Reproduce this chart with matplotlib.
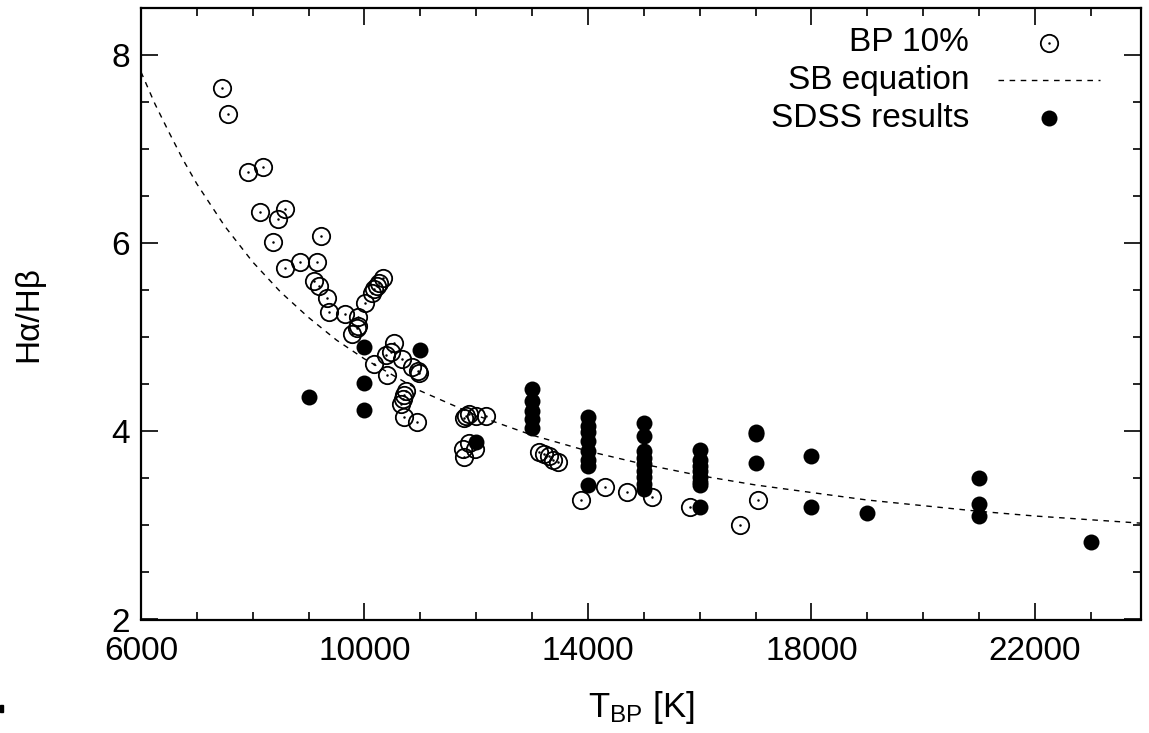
import matplotlib
matplotlib.use("Agg")
import matplotlib.pyplot as plt
from matplotlib.lines import Line2D
from matplotlib.patches import Rectangle

plt.rcParams["font.family"] = ["Liberation Sans", "DejaVu Sans"]
plt.rcParams["mathtext.fontset"] = "custom"
plt.rcParams["mathtext.rm"] = "Liberation Sans"
plt.rcParams["mathtext.it"] = "Liberation Sans"

# BP 10% (open circles)
bp_t = [7443, 7558, 7909, 8190, 8131, 8446, 8578, 8356, 9223, 8584,
        8847, 9151, 9090, 9180, 9330, 9372, 9653, 9885, 9891, 9860,
        9778, 10016, 10129, 10177, 10218, 10267, 10326, 10523, 10387, 10476,
        10177, 10673, 10852, 10952, 10983, 10397, 10745, 10714, 10684, 10655,
        10702, 10942, 11819, 11878, 11789, 11998, 12177, 11758, 11878, 11986,
        11789, 13132, 13221, 13310, 13370, 13460, 13870, 14300, 14700, 15150,
        15820, 16730, 17040]
bp_r = [7.65, 7.37, 6.76, 6.81, 6.33, 6.26, 6.36, 6.01, 6.08, 5.74,
        5.80, 5.80, 5.60, 5.55, 5.42, 5.27, 5.25, 5.22, 5.12, 5.10,
        5.04, 5.36, 5.47, 5.51, 5.55, 5.58, 5.63, 4.94, 4.81, 4.84,
        4.72, 4.77, 4.68, 4.64, 4.62, 4.60, 4.43, 4.39, 4.34, 4.29,
        4.15, 4.10, 4.16, 4.18, 4.14, 4.16, 4.16, 3.81, 3.88, 3.81,
        3.73, 3.78, 3.755, 3.74, 3.70, 3.67, 3.27, 3.41, 3.35, 3.30,
        3.20, 3.00, 3.27]

# SDSS results (filled circles)
sdss_t = [9000, 10000, 10000, 10000, 11000, 12000,
          13000, 13000, 13000, 13000, 13000,
          14000, 14000, 14000, 14000, 14000, 14000, 14000, 14000,
          15000, 15000, 15000, 15000, 15000, 15000, 15000, 15000, 15000,
          16000, 16000, 16000, 16000, 16000, 16000, 16000, 16000,
          17000, 17000, 17000, 18000, 18000, 19000,
          21000, 21000, 21000, 23000]
sdss_r = [4.36, 4.90, 4.51, 4.23, 4.86, 3.89,
          4.45, 4.32, 4.22, 4.13, 4.04,
          4.15, 4.06, 3.99, 3.90, 3.79, 3.70, 3.63, 3.43,
          4.09, 3.95, 3.79, 3.72, 3.65, 3.58, 3.51, 3.44, 3.39,
          3.80, 3.70, 3.63, 3.58, 3.52, 3.46, 3.43, 3.20,
          3.99, 3.97, 3.66, 3.74, 3.20, 3.13,
          3.50, 3.23, 3.10, 2.82]

# SB equation curve
sb_t = [6000, 6250, 6500, 6750, 7000, 7500, 8000, 8500, 9000, 9500,
        10000, 11000, 12000, 13000, 14000, 15000, 16000, 17000, 18000,
        19000, 20000, 21000, 22000, 23000, 24000]
sb_r = [7.82, 7.48, 7.18, 6.89, 6.63, 6.18, 5.80, 5.48, 5.21, 4.97,
        4.77, 4.43, 4.17, 3.96, 3.79, 3.65, 3.53, 3.43, 3.35,
        3.27, 3.21, 3.15, 3.10, 3.06, 3.02]

W, H = 1149, 733
fig = plt.figure(figsize=(W / 100, H / 100), dpi=100)
ax = fig.add_axes([141 / W, 1 - 619.5 / H, 1000 / W, 611.5 / H])

FS = 24
ax.plot(sb_t, sb_r, color="black", lw=1.0, dashes=(4, 4), zorder=2)
ax.plot(bp_t, bp_r, "o", ms=12.5, mfc="none", mec="black", mew=1.3, zorder=3)
ax.plot(bp_t, bp_r, ".", ms=1.6, color="black", zorder=3)
ax.plot(sdss_t, sdss_r, "o", ms=11.5, color="black", mew=0, zorder=4)

ax.set_xlim(6000, 23900)
ax.set_ylim(2, 8.5)
ax.set_xticks([6000, 10000, 14000, 18000, 22000])
ax.set_xticks(range(7000, 24000, 1000), minor=True)
ax.set_yticks([2, 4, 6, 8])
ax.set_yticks([2.5, 3, 3.5, 4.5, 5, 5.5, 6.5, 7, 7.5, 8.5], minor=True)
ax.tick_params(which="both", direction="in", top=True, right=True,
               labelsize=FS, width=1.2)
ax.tick_params(axis="x", pad=12)
ax.tick_params(axis="y", pad=8)
ax.tick_params(which="major", length=12)
ax.tick_params(which="minor", length=6)
for s in ax.spines.values():
    s.set_linewidth(1.6)

ax.set_xlabel(r"T$_{\mathrm{BP}}$ [K]", fontsize=FS + 1, labelpad=16)
ax.set_ylabel("H\u03b1/H\u03b2", fontsize=FS, labelpad=48)

# gnuplot-style key: right-aligned text, sample to its right
rows = [0.943, 0.882, 0.820]
labels = ["BP 10%", "SB equation", "SDSS results"]
for y, lab in zip(rows, labels):
    ax.text(0.828, y, lab, transform=ax.transAxes, ha="right", va="center",
            fontsize=FS)
ax.add_line(Line2D([0.908], [rows[0]], transform=ax.transAxes, marker="o",
                   ms=12.5, mfc="none", mec="black", mew=1.3))
ax.add_line(Line2D([0.908], [rows[0]], transform=ax.transAxes, marker=".",
                   ms=1.6, color="black"))
ax.add_line(Line2D([0.857, 0.959], [rows[1], rows[1]], transform=ax.transAxes,
                   color="black", lw=1.0, dashes=(4, 4)))
ax.add_line(Line2D([0.908], [rows[2]], transform=ax.transAxes, marker="o",
                   ms=11.5, color="black", mew=0))

fig.patches.append(Rectangle((0, 1 - 712 / H), 3 / W, 7 / H,
                             transform=fig.transFigure, color="black"))

fig.savefig("out.png", dpi=100)
